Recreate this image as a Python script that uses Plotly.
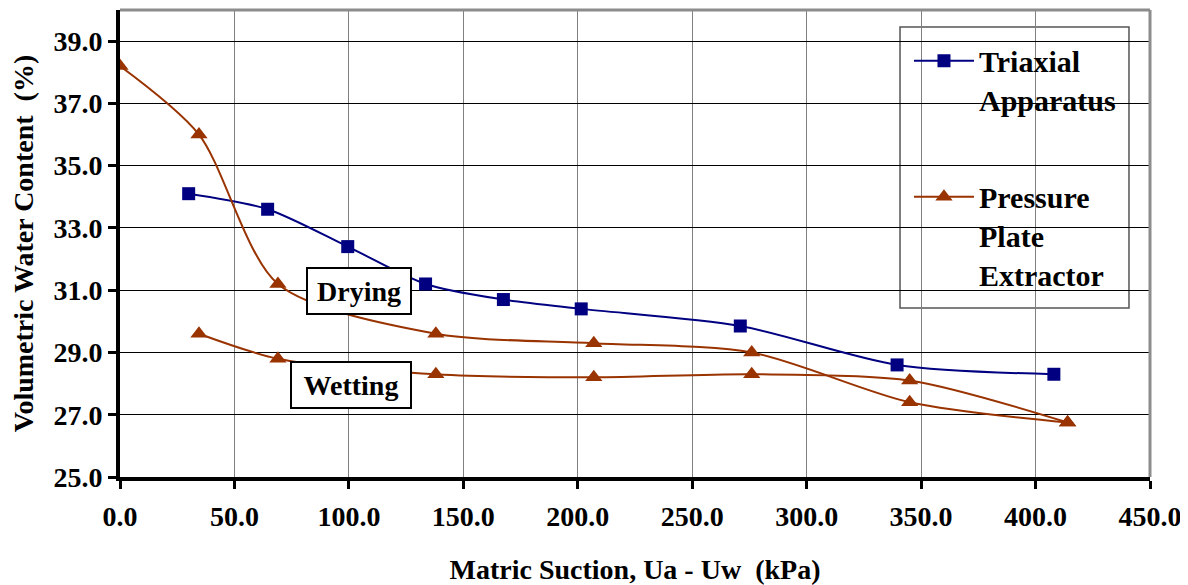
import plotly.graph_objects as go

# ---- data ----
triaxial_x = [30.0, 64.5, 99.5, 133.5, 167.5, 201.5, 271.0, 339.5, 408.0]
triaxial_y = [34.1, 33.6, 32.4, 31.2, 30.7, 30.4, 29.85, 28.6, 28.3]

drying_x = [0.0, 34.5, 69.0, 138.0, 207.0, 276.0, 345.0, 414.0]
drying_y = [38.2, 36.0, 31.2, 29.6, 29.3, 29.0, 27.4, 26.75]

wetting_x = [34.5, 69.0, 138.0, 207.0, 276.0, 345.0, 414.0]
wetting_y = [29.6, 28.8, 28.3, 28.2, 28.3, 28.1, 26.75]

x_ticks = [0, 50, 100, 150, 200, 250, 300, 350, 400, 450]
y_ticks = [25, 27, 29, 31, 33, 35, 37, 39]

labels = [("Drying", 104.5, 30.98, 98), ("Wetting", 101.0, 27.95, 114)]

NAVY = "#000080"
BROWN = "#993300"
FONT = "'Liberation Serif', 'Times New Roman', 'DejaVu Serif', serif"

fig = go.Figure()
fig.add_trace(go.Scatter(
    x=triaxial_x, y=triaxial_y, mode="lines+markers",
    name="Triaxial<br>Apparatus", legendgroup="a",
    line=dict(color=NAVY, width=2, shape="spline", smoothing=0.8),
    marker=dict(symbol="square", size=13, color=NAVY),
))
fig.add_trace(go.Scatter(
    x=drying_x, y=drying_y, mode="lines+markers",
    name="Pressure<br>Plate<br>Extractor", legendgroup="b",
    line=dict(color=BROWN, width=2, shape="spline", smoothing=0.8),
    marker=dict(symbol="triangle-up", size=15, color=BROWN),
))
fig.add_trace(go.Scatter(
    x=wetting_x, y=wetting_y, mode="lines+markers",
    name="Pressure Plate Extractor", legendgroup="b", showlegend=False,
    line=dict(color=BROWN, width=2, shape="spline", smoothing=0.8),
    marker=dict(symbol="triangle-up", size=15, color=BROWN),
))

for txt, xv, yv, w in labels:
    fig.add_annotation(
        x=xv, y=yv, xref="x", yref="y", text=txt, showarrow=False,
        font=dict(family=FONT, size=28, color="black", weight="bold"),
        bgcolor="white", bordercolor="black", borderwidth=2, borderpad=2,
        width=w, height=40,
    )

# gray top and right borders of the plot area
fig.add_shape(type="line", xref="paper", yref="paper", x0=0, x1=1, y0=1, y1=1,
              line=dict(color="#8c8c8c", width=3))
fig.add_shape(type="line", xref="paper", yref="paper", x0=1, x1=1, y0=0, y1=1,
              line=dict(color="#8c8c8c", width=3))
# legend frame
fig.add_shape(type="rect", xref="paper", yref="paper",
              x0=0.7573, x1=0.9796, y0=0.3619, y1=0.9636,
              fillcolor="white", line=dict(color="#555555", width=1.5),
              layer="between")

fig.update_layout(
    width=1180, height=577,
    margin=dict(l=112, r=38, t=2, b=108),
    paper_bgcolor="white", plot_bgcolor="white",
    font=dict(family=FONT, color="black"),
    xaxis=dict(
        range=[0, 450], tickvals=x_ticks,
        ticktext=[f"{v:.1f}" for v in x_ticks],
        showgrid=True, gridcolor="#808080", gridwidth=1,
        showline=True, linecolor="black", linewidth=4,
        ticks="outside", ticklen=8, tickwidth=3, tickcolor="black",
        tickfont=dict(family=FONT, size=28, weight="bold", color="black"),
        ticklabelstandoff=3, automargin=False,
        zeroline=False,
        title=dict(text="Matric Suction, Ua - Uw\u00a0 (kPa)", standoff=33,
                   font=dict(family=FONT, size=28, weight="bold", color="black")),
    ),
    yaxis=dict(
        range=[25, 40], tickvals=y_ticks,
        ticktext=[f"{v:.1f}" for v in y_ticks],
        showgrid=True, gridcolor="black", gridwidth=1,
        showline=True, linecolor="black", linewidth=4,
        ticks="outside", ticklen=8, tickwidth=3, tickcolor="black",
        tickfont=dict(family=FONT, size=28, weight="bold", color="black"),
        automargin=False,
        zeroline=False,
        title=dict(text="Volumetric Water Content\u00a0 (%)", standoff=17,
                   font=dict(family=FONT, size=28, weight="bold", color="black")),
    ),
    legend=dict(
        x=0.766, y=0.947, xanchor="left", yanchor="top",
        bgcolor="rgba(0,0,0,0)", borderwidth=0,
        font=dict(family=FONT, size=30, weight="bold", color="black"),
        tracegroupgap=55, valign="top", itemwidth=60,
    ),
)

fig.write_html("out.html")
